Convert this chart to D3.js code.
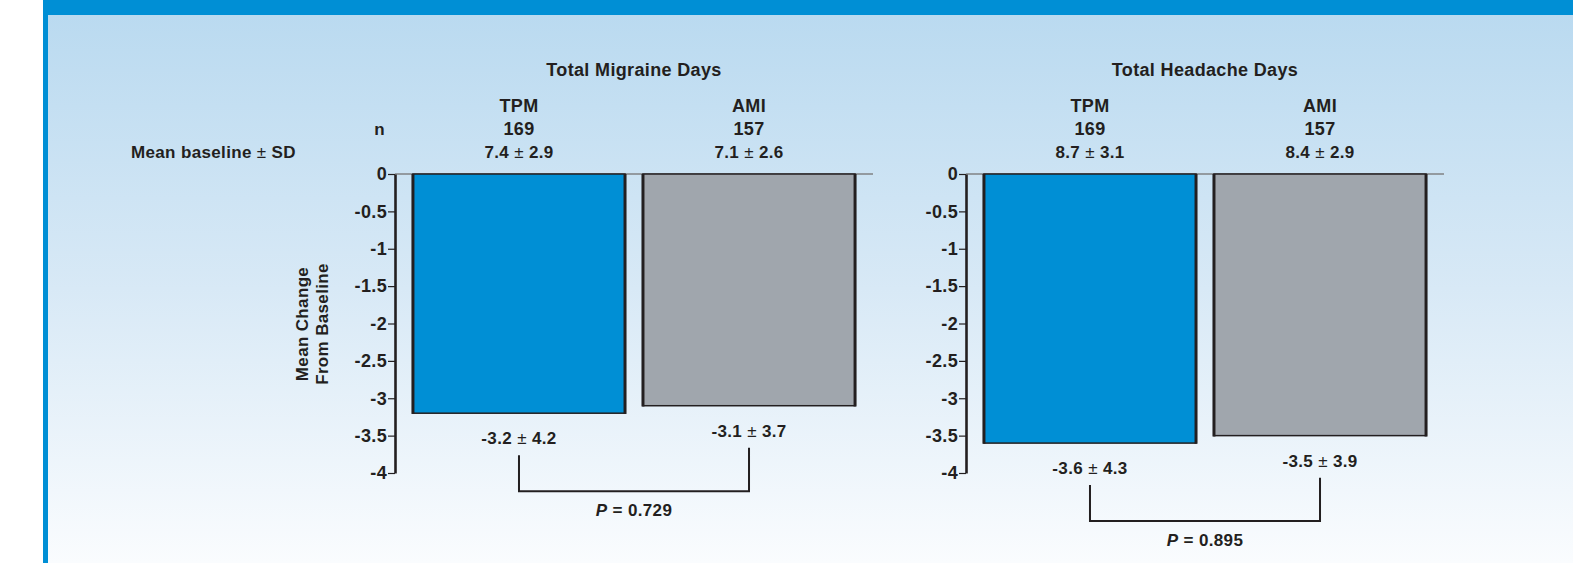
<!DOCTYPE html>
<html>
<head>
<meta charset="utf-8">
<script src="https://cdn.jsdelivr.net/npm/d3@7/dist/d3.min.js"></script>
<style>
  html, body { margin: 0; padding: 0; background: #ffffff; }
  svg { display: block; }
  text { font-family: "Liberation Sans", Arial, Helvetica, sans-serif; font-weight: 700; fill: #231f20; letter-spacing: 0.35px; }
</style>
</head>
<body>
<svg id="chart" width="1573" height="563"></svg>
<script>
// ---- data ----
const panelTitles = ["Total Migraine Days", "Total Headache Days"];
const groups = ["TPM", "AMI"];
const groupN = [169, 157];

const migraineBaseline = [7.4, 7.1];
const migraineBaselineSD = [2.9, 2.6];
const migraineChange = [-3.2, -3.1];
const migraineChangeSD = [4.2, 3.7];

const headacheBaseline = [8.7, 8.4];
const headacheBaselineSD = [3.1, 2.9];
const headacheChange = [-3.6, -3.5];
const headacheChangeSD = [4.3, 3.9];

const pValues = ["0.729", "0.895"];
const yTicks = [0, -0.5, -1, -1.5, -2, -2.5, -3, -3.5, -4];

const groupColors = ["#008fd5", "#a0a6ad"];

const panels = [
  { title: panelTitles[0], base: migraineBaseline, baseSD: migraineBaselineSD,
    change: migraineChange, changeSD: migraineChangeSD, p: pValues[0] },
  { title: panelTitles[1], base: headacheBaseline, baseSD: headacheBaselineSD,
    change: headacheChange, changeSD: headacheChangeSD, p: pValues[1] }
];

// ---- layout ----
const W = 1573, H = 563;
const ink = "#231f20";
const axisX = [395, 966];
const plotW = 478;
const rowTitle = 70, rowGroup = 106, rowN = 129, rowBase = 152;

const svg = d3.select("#chart");

// frame: blue top band and left rule, soft blue gradient field
const defs = svg.append("defs");
const grad = defs.append("linearGradient").attr("id", "field")
  .attr("x1", 0).attr("y1", 0).attr("x2", 0).attr("y2", 1);
grad.append("stop").attr("offset", "0%").attr("stop-color", "#badaf0");
grad.append("stop").attr("offset", "50%").attr("stop-color", "#d8e9f6");
grad.append("stop").attr("offset", "100%").attr("stop-color", "#fafcfe");

svg.append("rect").attr("x", 0).attr("y", 0).attr("width", W).attr("height", H).attr("fill", "#ffffff");
svg.append("rect").attr("x", 43).attr("y", 0).attr("width", W - 43).attr("height", H).attr("fill", "#008fd5");
svg.append("rect").attr("x", 48).attr("y", 15).attr("width", W - 48).attr("height", H - 15).attr("fill", "url(#field)");

const y = d3.scaleLinear().domain([0, -4]).range([174, 473]);

// row labels on the far left
svg.append("text").attr("x", 385).attr("y", rowN).attr("text-anchor", "end")
  .attr("dominant-baseline", "central").attr("font-size", 17).text("n");
const mb = svg.append("text").attr("x", 131).attr("y", rowBase)
  .attr("dominant-baseline", "central").attr("font-size", 17);
mb.append("tspan").text("Mean baseline ");
mb.append("tspan").attr("font-weight", 400).text("±");
mb.append("tspan").text(" SD");

// y-axis title
const yt = svg.append("text").attr("transform", "translate(308,324) rotate(-90)")
  .attr("text-anchor", "middle").attr("font-size", 17);
yt.append("tspan").attr("x", 0).attr("dy", "0em").text("Mean Change");
yt.append("tspan").attr("x", 0).attr("dy", "1.2em").text("From Baseline");

function pm(sel, a, b) {
  sel.append("tspan").text(a + " ");
  sel.append("tspan").attr("font-weight", 400).text("±");
  sel.append("tspan").text(" " + b);
}

panels.forEach((p, i) => {
  const x0 = axisX[i];
  const x = d3.scaleBand().domain(groups).range([x0, x0 + plotW])
    .paddingInner(0.078).paddingOuter(0.078);
  const g = svg.append("g");

  // panel title
  g.append("text").attr("x", x0 + plotW / 2).attr("y", rowTitle)
    .attr("text-anchor", "middle").attr("dominant-baseline", "central")
    .attr("font-size", 18).text(p.title);

  // group header rows
  groups.forEach((grp, j) => {
    const cx = x(grp) + x.bandwidth() / 2;
    g.append("text").attr("x", cx).attr("y", rowGroup).attr("text-anchor", "middle")
      .attr("dominant-baseline", "central").attr("font-size", 18).text(grp);
    g.append("text").attr("x", cx).attr("y", rowN).attr("text-anchor", "middle")
      .attr("dominant-baseline", "central").attr("font-size", 18).text(groupN[j]);
    const bt = g.append("text").attr("x", cx).attr("y", rowBase).attr("text-anchor", "middle")
      .attr("dominant-baseline", "central").attr("font-size", 17);
    pm(bt, p.base[j].toFixed(1), p.baseSD[j].toFixed(1));
  });

  // zero reference line
  g.append("line").attr("x1", x0).attr("x2", x0 + plotW)
    .attr("y1", y(0)).attr("y2", y(0)).attr("stroke", "#808285").attr("stroke-width", 1.3);

  // bars
  groups.forEach((grp, j) => {
    const bx = x(grp), bw = x.bandwidth();
    const top = y(0), bot = y(p.change[j]);
    g.append("rect").attr("x", bx).attr("y", top).attr("width", bw).attr("height", bot - top)
      .attr("fill", groupColors[j]).attr("stroke", ink).attr("stroke-width", 1.5);
    [bx, bx + bw].forEach(ex => {
      g.append("line").attr("x1", ex).attr("x2", ex).attr("y1", top).attr("y2", bot + 0.75)
        .attr("stroke", ink).attr("stroke-width", 3);
    });
    const lt = g.append("text").attr("x", bx + bw / 2).attr("y", bot + 25)
      .attr("text-anchor", "middle").attr("dominant-baseline", "central").attr("font-size", 17);
    pm(lt, p.change[j].toFixed(1), p.changeSD[j].toFixed(1));
  });

  // y axis
  const axis = d3.axisLeft(y).tickValues(yTicks).tickSize(7).tickSizeOuter(0).tickPadding(1)
    .tickFormat(d => String(d));
  const ag = g.append("g").attr("transform", `translate(${x0},0)`).call(axis);
  ag.select(".domain").attr("stroke", ink).attr("stroke-width", 2.6);
  ag.selectAll(".tick line").attr("stroke", ink).attr("stroke-width", 1.2);
  ag.selectAll(".tick text").attr("font-size", 18).attr("fill", ink)
    .attr("font-family", "'Liberation Sans', Arial, sans-serif").attr("font-weight", 700);

  // significance bracket
  const cxs = groups.map(grp => x(grp) + x.bandwidth() / 2);
  const tops = p.change.map(v => y(v) + 25 + 17);
  const base = Math.max(...tops) + 36;
  g.append("path")
    .attr("d", `M${cxs[0]},${tops[0]}V${base}H${cxs[1]}V${tops[1]}`)
    .attr("fill", "none").attr("stroke", ink).attr("stroke-width", 2);
  const pt = g.append("text").attr("x", (cxs[0] + cxs[1]) / 2).attr("y", base + 19)
    .attr("text-anchor", "middle").attr("dominant-baseline", "central").attr("font-size", 17);
  pt.append("tspan").attr("font-style", "italic").text("P");
  pt.append("tspan").text(" = " + p.p);
});
</script>
</body>
</html>
